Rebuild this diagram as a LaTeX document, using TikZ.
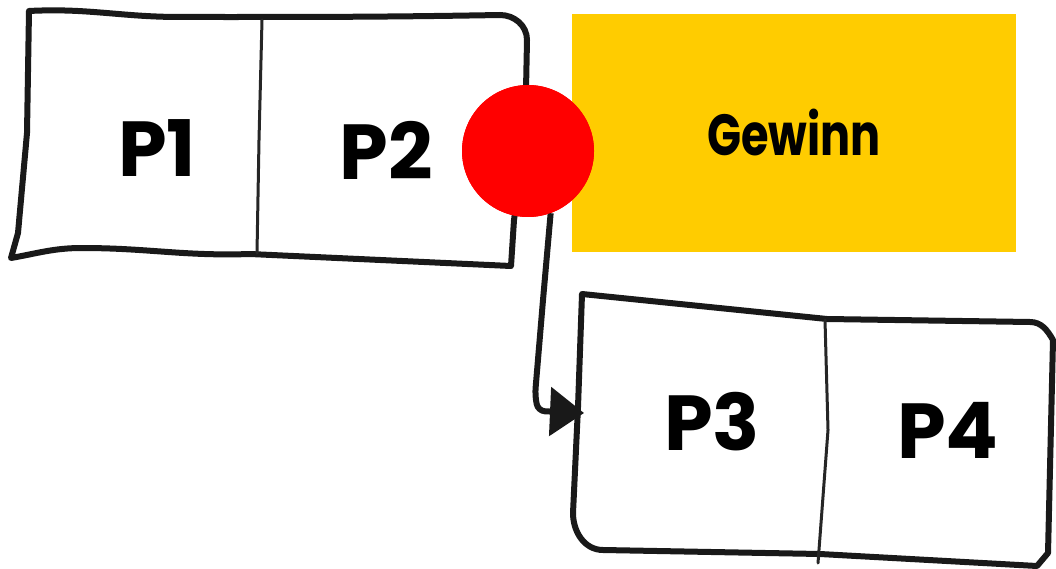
\documentclass[tikz,border=0pt]{standalone}
\usepackage{fontspec}
\setmainfont{Poppins}
\usetikzlibrary{arrows.meta}
\definecolor{gold}{HTML}{FFCC00}
\begin{document}
\begin{tikzpicture}[x=1pt,y=-1pt,
  sketch/.style={line width=6pt,line join=round,line cap=round,black!90},
  divider/.style={line width=3pt,line cap=round,black!85},
  cell/.style={inner sep=0pt,font=\fontsize{78}{78}\selectfont\bfseries},
  conn/.style={line width=6pt,black!90,rounded corners=7pt,
    -{Triangle[length=34pt,width=48pt]}}]
\useasboundingbox (0,0) rectangle (1056,569);

% first pair of cells
\draw[sketch] (29,11) to[out=3,in=180] (180,17) to[out=0,in=181] (500,15)
  to[out=0,in=90] (527,40) -- (525,140) -- (514,220) -- (511,266)
  -- (250,254) to[out=182,in=0] (82,248) to[out=180,in=10] (11,258)
  -- (18,233) -- (27,133) -- cycle;
\draw[divider] (262,20) -- (259,140) -- (257,253);
\node[cell] (p1) at (157,148) {P1};
\node[cell] (p2) at (386,150) {P2};

% second pair of cells
\draw[sketch] (582,294) -- (827,319) -- (1030,322)
  to[out=0,in=120] (1053,340) -- (1048,553) -- (1037,566)
  -- (820,554) -- (603,550) to[out=180,in=-90] (573,513)
  -- (578,407) -- cycle;
\draw[divider] (825,320) -- (828,430) -- (818,563);
\node[cell] (p3) at (712,422) {P3};
\node[cell] (p4) at (948,430) {P4};
\coordinate (in3) at (584,413);

% profit box
\node[fill=gold,minimum width=444pt,minimum height=238pt,inner sep=0pt,
  font=\fontsize{58}{58}\selectfont\bfseries] (gewinn) at (794,133)
  {\scalebox{0.77}[1]{Gewinn}};

% marker and link to the second pair
\node[circle,fill=red,minimum size=132pt,inner sep=0pt] (dot) at (528,151) {};
\draw[conn] (dot.-70) -- (543,300) -- (535,395) -- (538,411) -- (in3);
\fill[red] (dot.center) circle (66pt);
\end{tikzpicture}
\end{document}
